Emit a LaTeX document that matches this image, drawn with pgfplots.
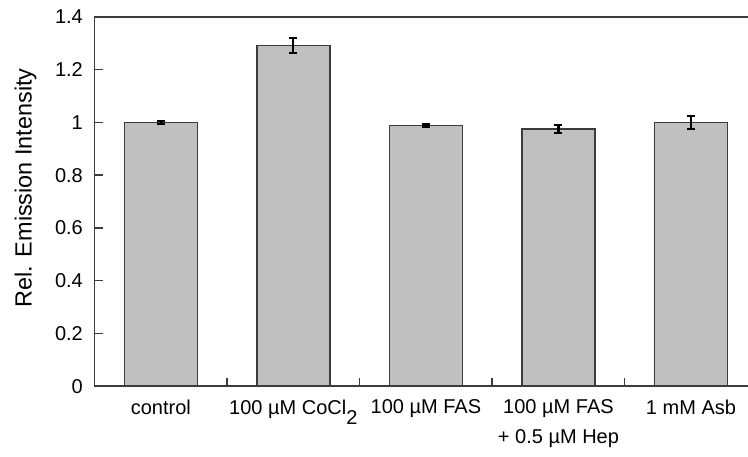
\documentclass[border=0pt]{standalone}
\usepackage{fontspec}
\setmainfont{Liberation Sans}
\usepackage{pgfplots}
\pgfplotsset{compat=1.18}
\definecolor{barfill}{RGB}{192,192,192}
\definecolor{edge}{RGB}{60,60,60}
\begin{document}
\begin{tikzpicture}
\begin{axis}[
  scale only axis,
  width=331.25pt, height=184.5pt,
  xmin=-0.5, xmax=4.5,
  ymin=0, ymax=1.4,
  axis line style={edge, line width=0.75pt},
  tick align=inside, ytick align=inside,
  xtick pos=left, ytick pos=both,
  major tick length=4pt,
  tick style={edge, line width=0.75pt},
  ytick={0,0.2,0.4,0.6,0.8,1.0,1.2,1.4},
  yticklabel pos=left,
  /pgf/number format/assume math mode=true,
  /pgf/number format/fixed,
  yticklabel style={font=\fontsize{10}{12}\selectfont, xshift=-2.3pt},
  xtick={-0.5,0.5,1.5,2.5,3.5,4.5},
  x tick label as interval,
  xticklabels={control, 100 µM CoCl\raisebox{-5pt}{2}, 100 µM FAS, {100 µM FAS\\+ 0.5 µM Hep}, 1 mM Asb},
  xticklabel style={font=\fontsize{10}{14.5}\selectfont, align=center, yshift=-3.4pt},
  ylabel={Rel. Emission Intensity},
  ylabel style={font=\fontsize{11.7}{14}\selectfont, at={(axis description cs:-0.0951,0.537)}, anchor=base, rotate=0},
  clip=false,
]
\addplot[ybar, bar width=0.55, fill=barfill, draw=edge, line width=0.75pt,
  error bars/.cd, y dir=both, y explicit,
  error bar style={black, line width=1.1pt},
  error mark options={rotate=90, mark size=2pt, black, line width=1.1pt}]
  coordinates {
  (0,1.000) +- (0,0.005)
  (1,1.291) +- (0,0.029)
  (2,0.988) +- (0,0.004)
  (3,0.976) +- (0,0.015)
  (4,1.000) +- (0,0.025)
  };
\pgfplotsinvokeforeach{0.2,0.4,0.6,0.8,1.0,1.2}{
  \draw[edge, line width=0.75pt] (axis cs:-0.5,#1) -- ++(4pt,0pt);
}
\coordinate (BL) at (rel axis cs:0,0);
\coordinate (TR) at (axis cs:4.43,1.4);
\end{axis}
\pgfresetboundingbox
\path[use as bounding box] ([xshift=-47.25pt,yshift=-35pt]BL) rectangle ([yshift=8.5pt]TR);
\end{tikzpicture}
\end{document}
